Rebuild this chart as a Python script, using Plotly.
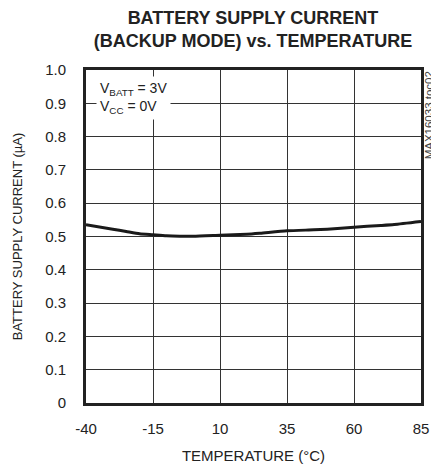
import plotly.graph_objects as go

temps = [-40, -30, -25, -20, -15, -10, -5, 0, 10, 20, 25, 35, 45, 50, 60, 70, 75, 85]
current = [0.535, 0.522, 0.515, 0.508, 0.505, 0.502, 0.501, 0.501, 0.504, 0.507, 0.510, 0.517, 0.520, 0.522, 0.528, 0.533, 0.536, 0.545]

x_ticks = [-40, -15, 10, 35, 60, 85]
y_ticks = [0, 0.1, 0.2, 0.3, 0.4, 0.5, 0.6, 0.7, 0.8, 0.9, 1.0]
y_labels = ["0", "0.1", "0.2", "0.3", "0.4", "0.5", "0.6", "0.7", "0.8", "0.9", "1.0"]

FONT = "Liberation Sans, Arial, sans-serif"

fig = go.Figure()
fig.add_trace(go.Scatter(x=temps, y=current, mode="lines",
                         line=dict(color="#1a1a1a", width=3, shape="spline", smoothing=0.6),
                         showlegend=False, hoverinfo="skip"))

fig.update_layout(
    width=431, height=470,
    margin=dict(l=86, r=10, t=70, b=67),
    paper_bgcolor="white", plot_bgcolor="white",
    font=dict(family=FONT, color="#222222", size=15),
    title=dict(text="<b>BATTERY SUPPLY CURRENT<br>(BACKUP MODE) vs. TEMPERATURE</b>",
               xref="container", yref="container",
               x=0.587, xanchor="center", y=1 - 23.5 / 470, yanchor="middle",
               font=dict(family=FONT, size=18, color="#222222")),
    xaxis=dict(range=[-40, 85], tickvals=x_ticks, ticktext=[str(v) for v in x_ticks],
               showgrid=True, gridcolor="#333333", gridwidth=1.2,
               showline=True, linecolor="#222222", linewidth=3, mirror=True,
               ticks="", zeroline=False, tickfont=dict(size=15), automargin=False,
               ticklabelstandoff=10,
               title=dict(text="TEMPERATURE (°C)", font=dict(size=15), standoff=15)),
    yaxis=dict(range=[0, 1.0], tickvals=y_ticks, ticktext=y_labels,
               showgrid=True, gridcolor="#333333", gridwidth=1.2,
               showline=True, linecolor="#222222", linewidth=3, mirror=True,
               ticks="", zeroline=False, tickfont=dict(size=15), automargin=False,
               ticklabelstandoff=14,
               title=dict(text="BATTERY SUPPLY CURRENT (µA)", font=dict(size=13), standoff=20)),
)

fig.add_annotation(xref="paper", yref="paper", x=0.03, y=0.983, xanchor="left", yanchor="top",
                   text="V<sub>BATT</sub> = 3V<br>V<sub>CC</sub> = 0V", align="left",
                   showarrow=False, bgcolor="white", borderpad=3,
                   font=dict(family=FONT, size=14, color="#222222"))

fig.add_annotation(xref="paper", yref="paper", x=1.004, y=1.0, xanchor="left", yanchor="top",
                   text="MAX16033 toc02", textangle=-90, showarrow=False, borderpad=0,
                   font=dict(family=FONT, size=11.5, color="#444444"))

fig.write_html("out.html", config={"displayModeBar": False},
               post_script="document.body.style.margin='0px';")
